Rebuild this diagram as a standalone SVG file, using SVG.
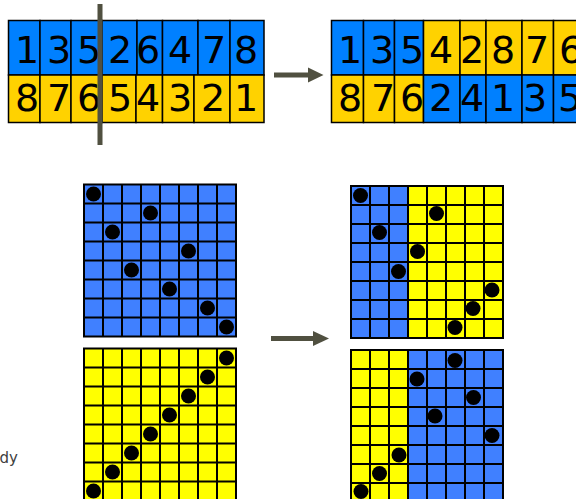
<svg xmlns="http://www.w3.org/2000/svg" width="576" height="499" viewBox="0 0 576 499">
<defs>
<style>
.cb{fill:#0080ff;stroke:#000;stroke-width:1.5}
.cy{fill:#ffd200;stroke:#000;stroke-width:1.5}
.num{font-family:"DejaVu Sans",Verdana,sans-serif;font-size:38px;fill:#000;text-anchor:middle}
.gb{fill:#4080ff}
.gy{fill:#ffff00}
.gl{stroke:#000;stroke-width:2;fill:none}
.dot{fill:#000}
.arr{fill:#505040}
.lbl{font-family:"DejaVu Sans",Verdana,sans-serif;font-size:15px;fill:#404040}
</style>
<path id="gridlines" class="gl" d="M0 0H152V152H0Z M19 0V152M38 0V152M57 0V152M76 0V152M95 0V152M114 0V152M133 0V152 M0 19H152M0 38H152M0 57H152M0 76H152M0 95H152M0 114H152M0 133H152"/>
</defs>

<g id="array-left">
<rect class="cb" x="8.5" y="20.5" width="31.5" height="54.5"/>
<rect class="cb" x="40" y="20.5" width="31" height="54.5"/>
<rect class="cb" x="71" y="20.5" width="31" height="54.5"/>
<rect class="cb" x="102" y="20.5" width="35" height="54.5"/>
<rect class="cb" x="137" y="20.5" width="25.5" height="54.5"/>
<rect class="cb" x="162.5" y="20.5" width="35.5" height="54.5"/>
<rect class="cb" x="198" y="20.5" width="32" height="54.5"/>
<rect class="cb" x="230" y="20.5" width="34" height="54.5"/>
<rect class="cy" x="8.5" y="75" width="31.5" height="47.5"/>
<rect class="cy" x="40" y="75" width="31" height="47.5"/>
<rect class="cy" x="71" y="75" width="31" height="47.5"/>
<rect class="cy" x="102" y="75" width="34" height="47.5"/>
<rect class="cy" x="136" y="75" width="26.5" height="47.5"/>
<rect class="cy" x="162.5" y="75" width="31.5" height="47.5"/>
<rect class="cy" x="194" y="75" width="36" height="47.5"/>
<rect class="cy" x="230" y="75" width="34" height="47.5"/>
<text class="num" x="27" y="63">1</text>
<text class="num" x="59" y="63">3</text>
<text class="num" x="89" y="63">5</text>
<text class="num" x="120" y="63">2</text>
<text class="num" x="148" y="63">6</text>
<text class="num" x="180" y="63">4</text>
<text class="num" x="214" y="63">7</text>
<text class="num" x="246" y="63">8</text>
<text class="num" x="27" y="111">8</text>
<text class="num" x="59" y="111">7</text>
<text class="num" x="89" y="111">6</text>
<text class="num" x="120" y="111">5</text>
<text class="num" x="148" y="111">4</text>
<text class="num" x="180" y="111">3</text>
<text class="num" x="213" y="111">2</text>
<text class="num" x="246" y="111">1</text>
</g>

<g id="cut-line">
<rect class="arr" x="97.5" y="4" width="5" height="141"/>
</g>

<g id="array-right">
<rect class="cb" x="331.5" y="20.5" width="32" height="54.5"/>
<rect class="cb" x="363.5" y="20.5" width="31" height="54.5"/>
<rect class="cb" x="394.5" y="20.5" width="29" height="54.5"/>
<rect class="cy" x="423.5" y="20.5" width="36.5" height="54.5"/>
<rect class="cy" x="460" y="20.5" width="26" height="54.5"/>
<rect class="cy" x="486" y="20.5" width="36" height="54.5"/>
<rect class="cy" x="522" y="20.5" width="31.5" height="54.5"/>
<rect class="cy" x="553.5" y="20.5" width="32.5" height="54.5"/>
<rect class="cy" x="331.5" y="75" width="32" height="47.5"/>
<rect class="cy" x="363.5" y="75" width="31" height="47.5"/>
<rect class="cy" x="394.5" y="75" width="29" height="47.5"/>
<rect class="cb" x="423.5" y="75" width="36.5" height="47.5"/>
<rect class="cb" x="460" y="75" width="26" height="47.5"/>
<rect class="cb" x="486" y="75" width="36" height="47.5"/>
<rect class="cb" x="522" y="75" width="31.5" height="47.5"/>
<rect class="cb" x="553.5" y="75" width="32.5" height="47.5"/>
<text class="num" x="350" y="63">1</text>
<text class="num" x="382" y="63">3</text>
<text class="num" x="412" y="63">5</text>
<text class="num" x="441" y="63">4</text>
<text class="num" x="472" y="63">2</text>
<text class="num" x="503" y="63">8</text>
<text class="num" x="537" y="63">7</text>
<text class="num" x="571" y="63">6</text>
<text class="num" x="350" y="111">8</text>
<text class="num" x="383" y="111">7</text>
<text class="num" x="412" y="111">6</text>
<text class="num" x="441" y="111">2</text>
<text class="num" x="472" y="111">4</text>
<text class="num" x="503" y="111">1</text>
<text class="num" x="535" y="111">3</text>
<text class="num" x="570" y="111">5</text>
</g>

<g id="grid-top-left" transform="translate(84 184.5)">
<rect class="gb" x="0" y="0" width="152" height="152"/>
<use href="#gridlines"/>
<circle class="dot" cx="9.5" cy="9.5" r="7.5"/>
<circle class="dot" cx="66.5" cy="28.5" r="7.5"/>
<circle class="dot" cx="28.5" cy="47.5" r="7.5"/>
<circle class="dot" cx="104.5" cy="66.5" r="7.5"/>
<circle class="dot" cx="47.5" cy="85.5" r="7.5"/>
<circle class="dot" cx="85.5" cy="104.5" r="7.5"/>
<circle class="dot" cx="123.5" cy="123.5" r="7.5"/>
<circle class="dot" cx="142.5" cy="142.5" r="7.5"/>
</g>

<g id="grid-bottom-left" transform="translate(84 348.5)">
<rect class="gy" x="0" y="0" width="152" height="152"/>
<use href="#gridlines"/>
<circle class="dot" cx="142.5" cy="9.5" r="7.5"/>
<circle class="dot" cx="123.5" cy="28.5" r="7.5"/>
<circle class="dot" cx="104.5" cy="47.5" r="7.5"/>
<circle class="dot" cx="85.5" cy="66.5" r="7.5"/>
<circle class="dot" cx="66.5" cy="85.5" r="7.5"/>
<circle class="dot" cx="47.5" cy="104.5" r="7.5"/>
<circle class="dot" cx="28.5" cy="123.5" r="7.5"/>
<circle class="dot" cx="9.5" cy="142.5" r="7.5"/>
</g>

<g id="grid-top-right" transform="translate(351 186)">
<rect class="gy" x="0" y="0" width="152" height="152"/>
<rect class="gb" x="0" y="0" width="57" height="152"/>
<use href="#gridlines"/>
<circle class="dot" cx="9.5" cy="9.5" r="7.5"/>
<circle class="dot" cx="85.5" cy="27.5" r="7.5"/>
<circle class="dot" cx="28.5" cy="46.5" r="7.5"/>
<circle class="dot" cx="66.5" cy="65.5" r="7.5"/>
<circle class="dot" cx="47.5" cy="85.5" r="7.5"/>
<circle class="dot" cx="141" cy="104" r="7.5"/>
<circle class="dot" cx="122" cy="122.5" r="7.5"/>
<circle class="dot" cx="104" cy="141.5" r="7.5"/>
</g>

<g id="grid-bottom-right" transform="translate(351 350)">
<rect class="gb" x="0" y="0" width="152" height="152"/>
<rect class="gy" x="0" y="0" width="57" height="152"/>
<use href="#gridlines"/>
<circle class="dot" cx="104" cy="10.5" r="7.5"/>
<circle class="dot" cx="66" cy="29" r="7.5"/>
<circle class="dot" cx="122.5" cy="47.5" r="7.5"/>
<circle class="dot" cx="84" cy="66" r="7.5"/>
<circle class="dot" cx="141" cy="85.5" r="7.5"/>
<circle class="dot" cx="48" cy="105" r="7.5"/>
<circle class="dot" cx="28.5" cy="123.5" r="7.5"/>
<circle class="dot" cx="10" cy="141.5" r="7.5"/>
</g>

<g id="label-dy">
<text class="lbl" x="18" y="463" text-anchor="end">dy</text>
</g>

<g id="connectors">
<rect class="arr" x="274" y="72.5" width="36" height="5"/>
<polygon class="arr" points="308,67.5 323.5,75 308,82.5"/>
<rect class="arr" x="271" y="336" width="44" height="5"/>
<polygon class="arr" points="313,331 329,338.5 313,346"/>
</g>
</svg>
